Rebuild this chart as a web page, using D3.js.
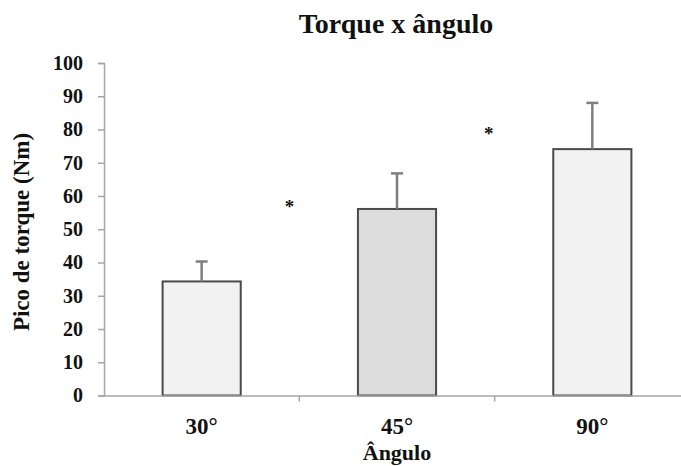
<!DOCTYPE html>
<html>
<head>
<meta charset="utf-8">
<script src="https://cdn.jsdelivr.net/npm/d3@7"></script>
<style>
  body { margin: 0; background: #fff; }
</style>
</head>
<body>
<svg></svg>
<script>
const width = 681;
const height = 466;

// data
const categories = ['30°', '45°', '90°'];
const means = [34.3, 56.1, 74.1];
const errors = [6.0, 10.7, 13.9];
const fills = ['#f2f2f2', '#dcdcdc', '#f2f2f2'];
const yTicks = [0, 10, 20, 30, 40, 50, 60, 70, 80, 90, 100];
// significance marks: position between categories (index units) and height
const starPos = [0.45, 1.47];
const starVal = [57.5, 79.4];

const FONT = '"Liberation Serif", "Times New Roman", serif';

const svg = d3.select('svg')
  .attr('width', width)
  .attr('height', height);

function serif(sel, size) {
  sel.style('font-family', FONT)
    .style('font-weight', 'bold')
    .style('font-size', size + 'px')
    .style('fill', '#111');
}

const x = d3.scaleBand()
  .domain(categories)
  .range([104, 690])
  .padding(0);

const xi = d3.scaleLinear()
  .domain([0, 2])
  .range([x(categories[0]) + x.bandwidth() / 2, x(categories[2]) + x.bandwidth() / 2]);

const y = d3.scaleLinear()
  .domain([0, 100])
  .range([395.5, 63]);

const barW = x.bandwidth() * 0.4;
const axisColor = '#a6a6a6';

// y axis
const yAxis = svg.append('g')
  .attr('transform', 'translate(104,0)')
  .call(d3.axisLeft(y).tickValues(yTicks).tickSize(6).tickPadding(15));
yAxis.select('.domain').attr('stroke', axisColor).attr('stroke-width', 1.5);
yAxis.selectAll('.tick line').attr('stroke', axisColor).attr('stroke-width', 1.5);
yAxis.selectAll('.tick text').call(serif, 20);

// bars
svg.append('g')
  .selectAll('rect')
  .data(means)
  .enter()
  .append('rect')
  .attr('x', (d, i) => x(categories[i]) + (x.bandwidth() - barW) / 2)
  .attr('y', d => y(d))
  .attr('width', barW)
  .attr('height', d => y(0) - y(d))
  .attr('fill', (d, i) => fills[i])
  .attr('stroke', '#4a4a4a')
  .attr('stroke-width', 2);

// error bars
const eb = svg.append('g')
  .selectAll('g')
  .data(means)
  .enter()
  .append('g')
  .attr('stroke', '#7f7f7f')
  .attr('stroke-width', 2.5);

eb.append('line')
  .attr('x1', (d, i) => x(categories[i]) + x.bandwidth() / 2)
  .attr('x2', (d, i) => x(categories[i]) + x.bandwidth() / 2)
  .attr('y1', d => y(d))
  .attr('y2', (d, i) => y(d + errors[i]));

eb.append('line')
  .attr('x1', (d, i) => x(categories[i]) + x.bandwidth() / 2 - 6)
  .attr('x2', (d, i) => x(categories[i]) + x.bandwidth() / 2 + 6)
  .attr('y1', (d, i) => y(d + errors[i]))
  .attr('y2', (d, i) => y(d + errors[i]));

// x axis
const xAxis = svg.append('g')
  .attr('transform', `translate(0,${y(0)})`)
  .call(d3.axisBottom(x).tickSize(0).tickPadding(22));
xAxis.select('.domain').attr('stroke', axisColor).attr('stroke-width', 1.5);
xAxis.selectAll('.tick text').call(serif, 23);

// x ticks between categories
svg.append('g')
  .selectAll('line')
  .data(categories.slice(1))
  .enter()
  .append('line')
  .attr('x1', d => x(d))
  .attr('x2', d => x(d))
  .attr('y1', y(0))
  .attr('y2', y(0) + 6)
  .attr('stroke', axisColor)
  .attr('stroke-width', 1.5);

// asterisks
svg.append('g')
  .selectAll('text')
  .data(starVal)
  .enter()
  .append('text')
  .attr('x', (d, i) => xi(starPos[i]))
  .attr('y', d => y(d) + 9)
  .attr('text-anchor', 'middle')
  .call(serif, 19)
  .text('*');

// titles
svg.append('text')
  .attr('x', 396)
  .attr('y', 33)
  .attr('text-anchor', 'middle')
  .call(serif, 28)
  .text('Torque x ângulo');

svg.append('text')
  .attr('x', 397)
  .attr('y', 460)
  .attr('text-anchor', 'middle')
  .call(serif, 22)
  .text('Ângulo');

svg.append('text')
  .attr('transform', 'translate(29,232) rotate(-90)')
  .attr('text-anchor', 'middle')
  .call(serif, 23)
  .text('Pico de torque (Nm)');
</script>
</body>
</html>
